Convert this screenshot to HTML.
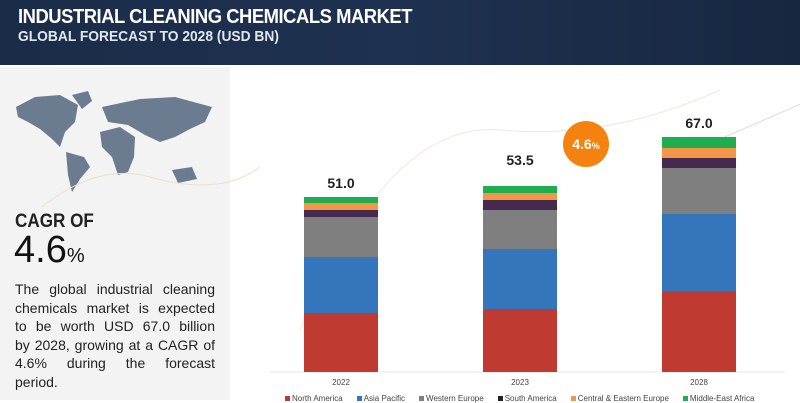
<!DOCTYPE html>
<html><head><meta charset="utf-8"><style>
*{margin:0;padding:0;box-sizing:border-box}
body{width:800px;height:400px;background:#fff;position:relative;overflow:hidden;font-family:"Liberation Sans",sans-serif}
.hdr{position:absolute;left:0;top:0;width:800px;height:65px;background:linear-gradient(90deg,#1b2c48,#1e3150 50%,#17273f)}
.t1{position:absolute;left:18px;top:6px;color:#fff;font-weight:bold;font-size:20px;letter-spacing:-0.5px;transform:scaleX(.92);transform-origin:left}
.t2{position:absolute;left:18px;top:28px;color:#dfe6ee;font-weight:bold;font-size:15px;transform:scaleX(.92);transform-origin:left}
.left{position:absolute;left:0;top:67px;width:230px;height:333px;background:#f3f3f3}
.cagr{position:absolute;left:15px;top:211px;font-size:19px;font-weight:bold;color:#222;transform:scaleX(.9);transform-origin:left}
.big{position:absolute;left:14px;top:229px;font-size:38px;color:#111}
.big span{font-size:20px}
.para{position:absolute;left:15px;top:280px;width:200px;font-size:14px;line-height:18.5px;color:#222}
.para div{text-align:justify;text-align-last:justify;white-space:nowrap;overflow:visible}
.para div.l{text-align-last:left}
.bar{position:absolute;width:74px}
.lab{position:absolute;font-size:14px;font-weight:bold;color:#222;width:74px;text-align:center}
.yr{position:absolute;font-size:8px;color:#444;width:74px;text-align:center;top:378px}
.leg{position:absolute;top:394px;left:285px;font-size:8px;color:#444;white-space:nowrap}
.leg i{display:inline-block;width:5px;height:5px;margin:0 2px 0 14px}
</style></head><body>
<div class="hdr"></div>
<div class="t1">INDUSTRIAL CLEANING CHEMICALS MARKET</div>
<div class="t2">GLOBAL FORECAST TO 2028 (USD BN)</div>
<div class="left"></div>
<svg style="position:absolute;left:0;top:67px" width="260" height="140">
<g fill="#6b7b90">
<path d="M16 40 L35 30 L60 28 L78 38 L75 55 L65 65 L60 80 L52 72 L40 62 L28 55 L18 50 Z"/>
<path d="M72 28 L88 24 L92 34 L82 42 Z"/>
<path d="M66 85 L84 90 L90 100 L80 112 L72 125 L68 108 Z"/>
<path d="M100 65 L120 60 L135 70 L134 90 L128 105 L118 108 L112 90 L102 80 Z"/>
<path d="M102 40 L140 32 L175 30 L212 40 L205 55 L190 62 L175 70 L160 75 L145 68 L128 58 L108 55 Z"/>
<path d="M172 103 L192 100 L197 112 L178 116 Z"/>
</g>
<path d="M0 180 Q80 90 150 110 T260 100" stroke="#e8e2c8" fill="none"/>
</svg>
<div class="cagr">CAGR OF</div>
<div class="big">4.6<span>%</span></div>
<div class="para"><div>The global industrial cleaning</div><div>chemicals market is expected</div><div>to be worth USD 67.0 billion</div><div>by 2028, growing at a CAGR of</div><div>4.6% during the forecast</div><div class="l">period.</div></div>
<svg style="position:absolute;left:240px;top:70px" width="560" height="310"><path d="M60 260 Q150 50 260 60 T480 20" stroke="#eeeadb" fill="none"/><line x1="30" y1="302" x2="545" y2="302" stroke="#e5e5e5"/><line x1="450" y1="82" x2="570" y2="30" stroke="#ddd"/></svg>
<div class="bar" style="left:304px;top:197px">
<div style="height:6px;background:#1fae4f"></div><div style="height:7px;background:#f39646"></div><div style="height:7px;background:#45294f"></div><div style="height:40px;background:#7f7f7f"></div><div style="height:56px;background:#3575bc"></div><div style="height:59px;background:#bf3a30"></div></div>
<div class="bar" style="left:483px;top:186px">
<div style="height:7px;background:#1fae4f"></div><div style="height:7px;background:#f39646"></div><div style="height:10px;background:#45294f"></div><div style="height:39px;background:#7f7f7f"></div><div style="height:60px;background:#3575bc"></div><div style="height:63px;background:#bf3a30"></div></div>
<div class="bar" style="left:662px;top:137px">
<div style="height:11px;background:#1fae4f"></div><div style="height:10px;background:#f39646"></div><div style="height:10px;background:#45294f"></div><div style="height:46px;background:#7f7f7f"></div><div style="height:77px;background:#3575bc"></div><div style="height:81px;background:#bf3a30"></div></div>
<div class="lab" style="left:304px;top:175px">51.0</div>
<div class="lab" style="left:483px;top:152px">53.5</div>
<div class="lab" style="left:662px;top:115px">67.0</div>
<div style="position:absolute;left:563px;top:121px;width:46px;height:46px;border-radius:50%;background:#f5820f;color:#fff;font-weight:bold;font-size:14px;line-height:46px;text-align:center">4.6<span style="font-size:9px">%</span></div>
<div class="yr" style="left:304px">2022</div>
<div class="yr" style="left:483px">2023</div>
<div class="yr" style="left:662px">2028</div>
<div class="leg"><i style="background:#bf3a30;margin-left:0"></i>North America<i style="background:#3575bc"></i>Asia Pacific<i style="background:#7f7f7f"></i>Western Europe<i style="background:#222"></i>South America<i style="background:#f39646"></i>Central &amp; Eastern Europe<i style="background:#1fae4f"></i>Middle-East Africa</div>
</body></html>
